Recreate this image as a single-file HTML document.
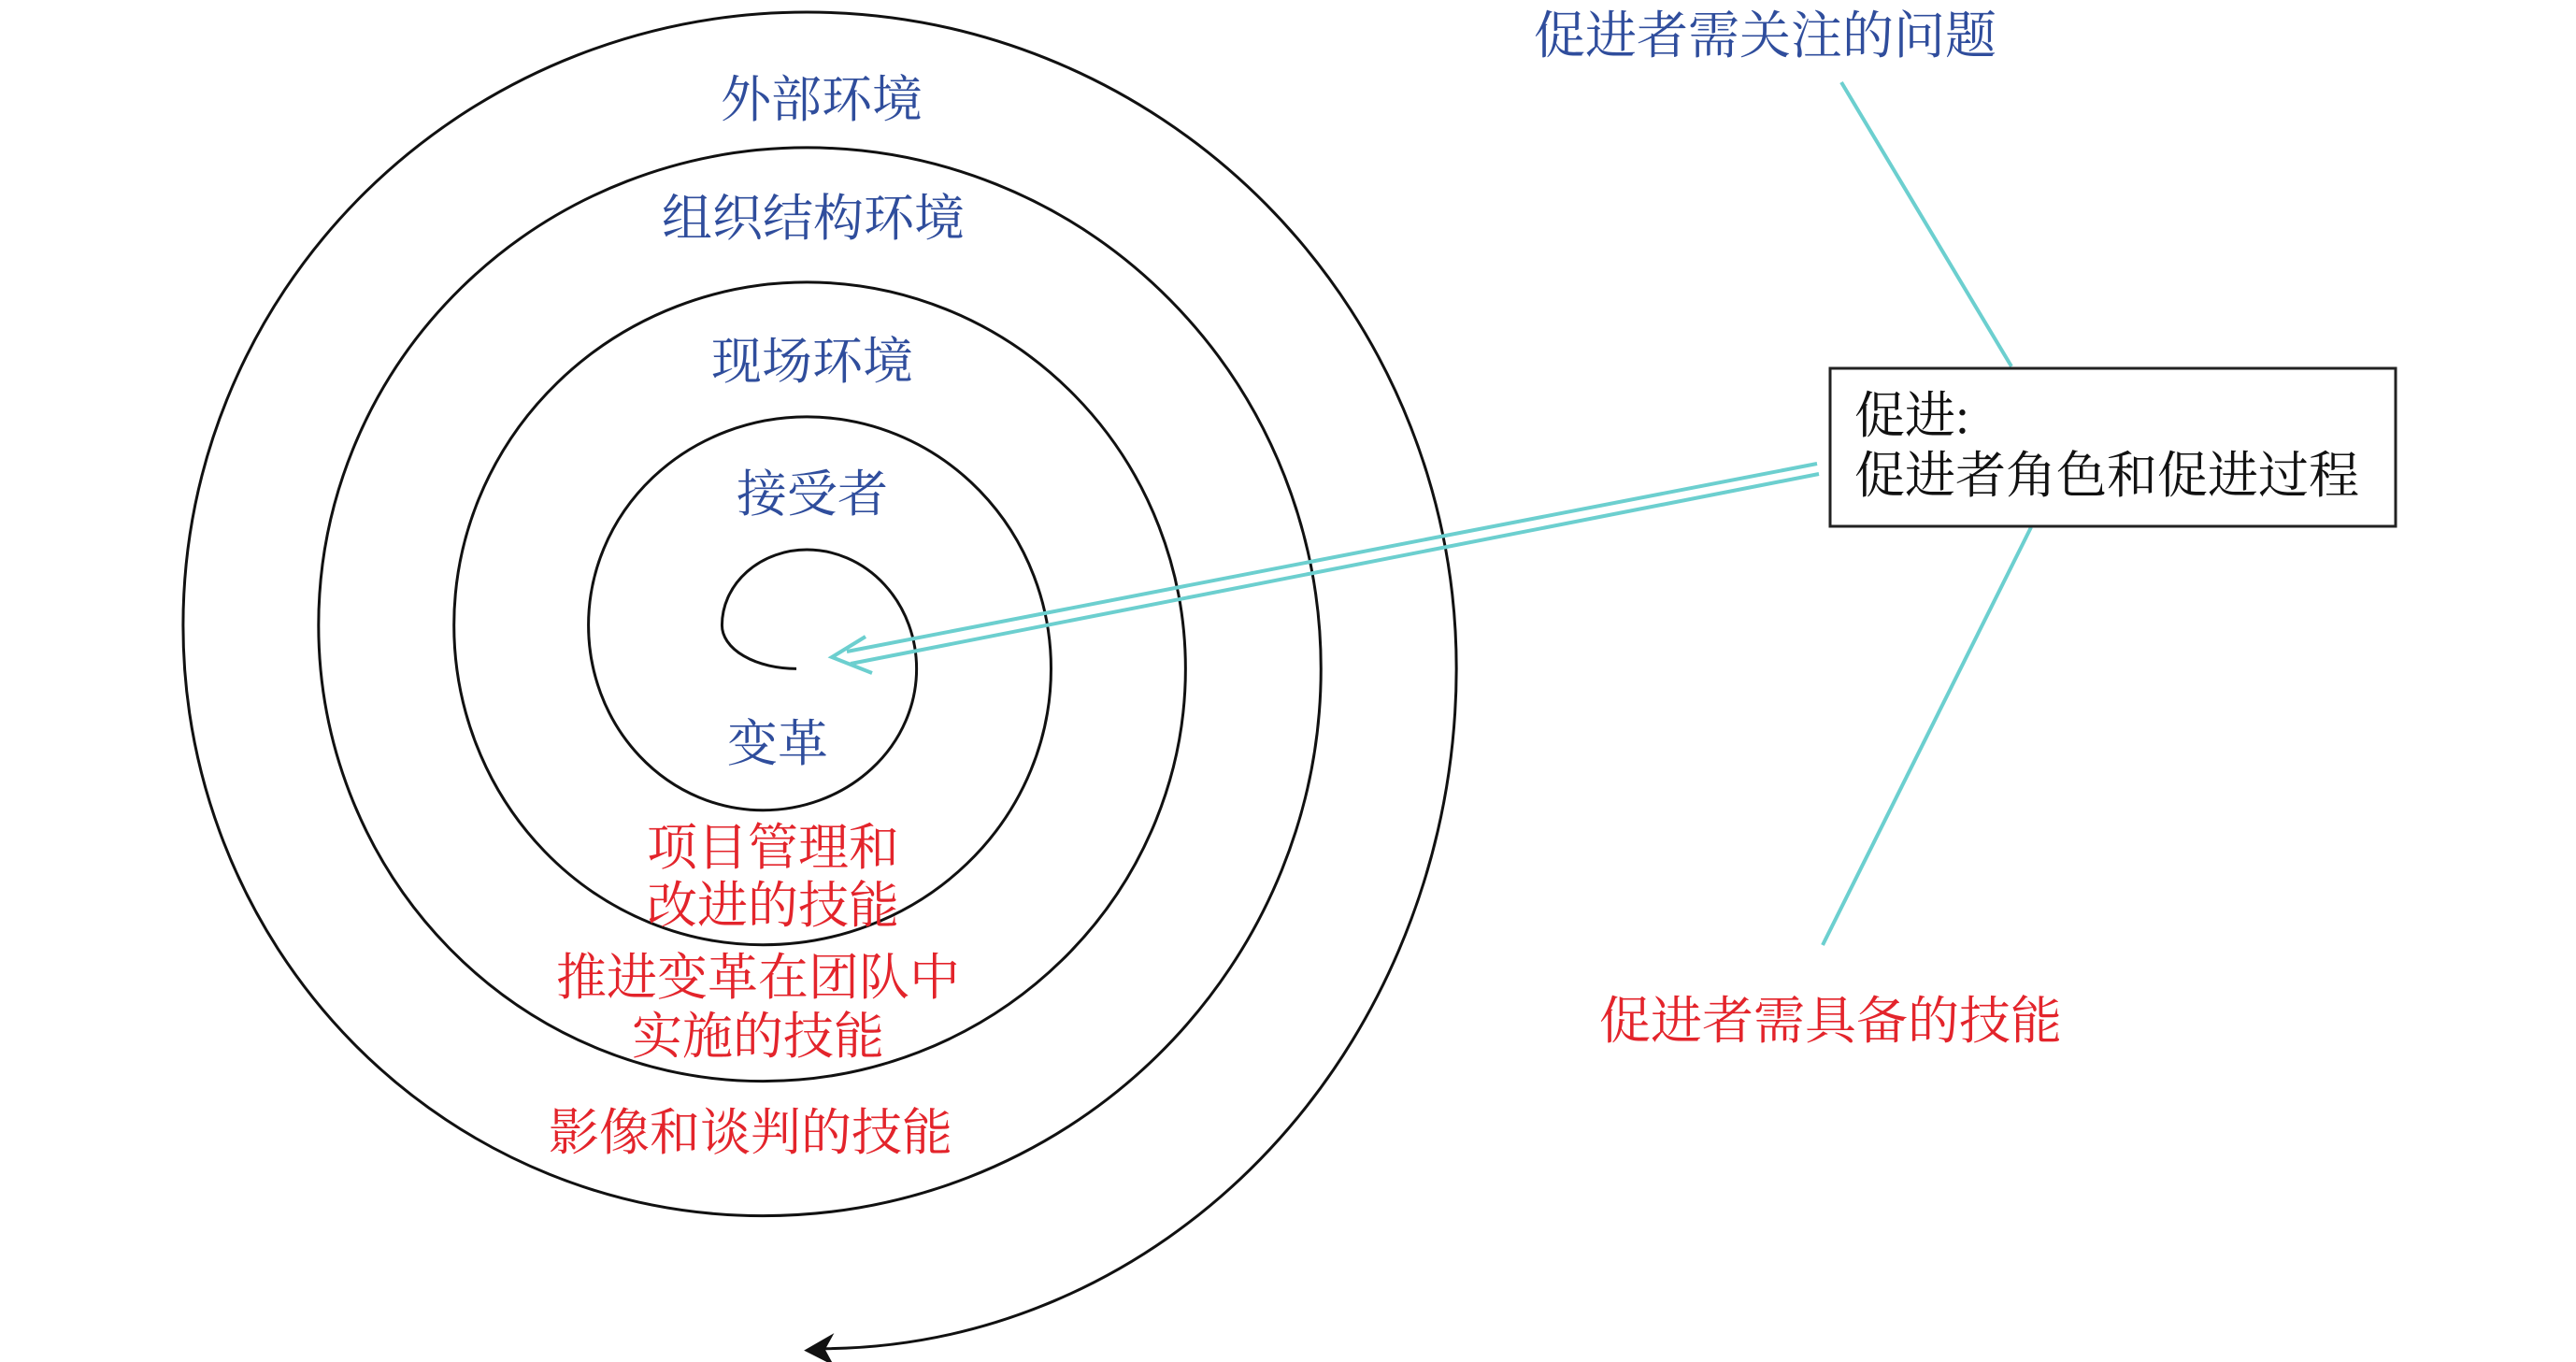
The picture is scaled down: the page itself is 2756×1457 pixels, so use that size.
<!DOCTYPE html>
<html><head><meta charset="utf-8"><style>
html,body{margin:0;padding:0;background:#fff}
body{width:2756px;height:1457px;position:relative;overflow:hidden;font-family:"Liberation Serif","Noto Serif CJK SC",serif}
.t{position:absolute;font-size:54px;line-height:54px;white-space:nowrap;text-align:center}
.b{color:#2f4d9c}.r{color:#e3242b}.k{color:#111}
</style></head><body>
<svg width="2756" height="1457" style="position:absolute;left:0;top:0">
<g transform="scale(1.0204,0.929)" fill="none" stroke="#111" stroke-width="3">
<path vector-effect="non-scaling-stroke" d="M835,770 A78,50 0 0 1 757,720 A89,87 0 0 1 846,633 A115,137 0 0 1 961,770 A161,163 0 0 1 800,933 A183,213 0 0 1 617,720 A229,240 0 0 1 846,480 A256,290 0 0 1 1102,770 A302,318 0 0 1 800,1088 A324,368 0 0 1 476,720 A370,395 0 0 1 846,325 A397,445 0 0 1 1243,770 A443,475 0 0 1 800,1245 A466,525 0 0 1 334,720 A512,550 0 0 1 846,170 A539,600 0 0 1 1385,770 A585,630 0 0 1 800,1400 A608,680 0 0 1 192,720 A654,706 0 0 1 846,14 A681,756 0 0 1 1527,770 A667,785 0 0 1 860,1553"/>
<path vector-effect="non-scaling-stroke" d="M845,1555 L872,1538 L864,1554 L872,1570 Z" fill="#111" stroke-width="2"/>
</g>
<g stroke="#6ccfcf" stroke-width="4" fill="none">
<line x1="1944" y1="496" x2="906" y2="697"/>
<line x1="1946" y1="507" x2="910" y2="710"/>
<polyline points="926,681 890,703 933,720"/>
<line x1="1970" y1="88" x2="2152" y2="392"/>
<line x1="2173" y1="564" x2="1950" y2="1011"/>
</g>
<rect x="1958" y="394" width="605" height="169" fill="#fff" stroke="#222" stroke-width="3"/>
</svg>
<div class="t b" style="left:1641px;top:12px;font-size:55px">促进者需关注的问题</div>
<div class="t r" style="left:1711px;top:1066px;font-size:55px">促进者需具备的技能</div>
<div class="t k" style="left:1984px;top:413px;text-align:left;font-size:54px;line-height:64px">促进:<br>促进者角色和促进过程</div>
<div class="t b" style="left:679px;width:400px;top:80px">外部环境</div>
<div class="t b" style="left:670px;width:400px;top:207px">组织结构环境</div>
<div class="t b" style="left:669px;width:400px;top:360px">现场环境</div>
<div class="t b" style="left:669px;width:400px;top:502px">接受者</div>
<div class="t b" style="left:632px;width:400px;top:769px">变革</div>
<div class="t r" style="left:577px;width:500px;top:876px;line-height:62px">项目管理和<br>改进的技能</div>
<div class="t r" style="left:511px;width:600px;top:1015px;line-height:63px">推进变革在团队中<br>实施的技能</div>
<div class="t r" style="left:503px;width:600px;top:1185px">影像和谈判的技能</div>
</body></html>
